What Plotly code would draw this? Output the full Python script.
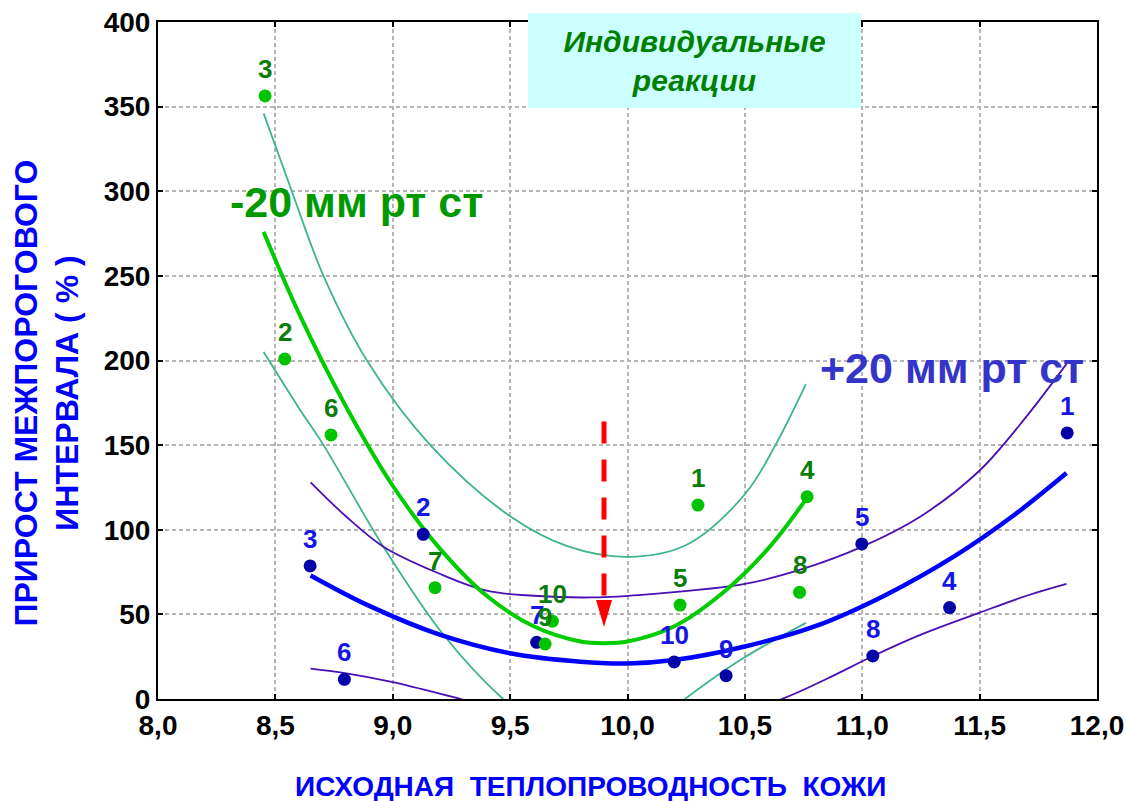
import plotly.graph_objects as go

# ---------------- data ----------------
labels = ["1", "2", "3", "4", "5", "6", "7", "8", "9", "10"]

# -20 mm Hg (green) individual reactions
green_x = [10.30, 8.54, 8.456, 10.765, 10.224, 8.737, 9.18, 10.733, 9.649, 9.68]
green_y = [114.6, 200.9, 356.3, 119.5, 55.5, 156.0, 65.8, 63.0, 32.5, 46.0]

# +20 mm Hg (blue) individual reactions
blue_x = [11.873, 9.13, 8.648, 11.372, 10.998, 8.794, 9.613, 11.045, 10.42, 10.199]
blue_y = [157.2, 97.3, 78.6, 54.0, 91.6, 11.6, 33.5, 25.4, 13.8, 21.9]

# regression curve and confidence bands, -20 mm Hg
g_fit_x = [8.45, 8.6, 8.8, 9.0, 9.2, 9.4, 9.6, 9.8, 9.9, 10.0, 10.2, 10.4, 10.6, 10.76]
g_fit_y = [276, 228, 173, 126, 89, 61, 43, 34, 33, 34, 43, 62, 89, 118]
g_up_x = [8.45, 8.57, 8.705, 8.89, 9.16, 9.5, 9.75, 10.0, 10.25, 10.5, 10.63, 10.76]
g_up_y = [346, 300, 250, 200, 150, 108, 90, 84, 91, 121, 150, 186]
g_lo_x = [8.45, 8.6, 8.705, 8.96, 9.21, 9.47, 9.7, 9.86, 10.0, 10.245, 10.48, 10.76]
g_lo_y = [205, 172, 150, 90, 39, 0, -24, -29, -27, 0, 23, 45]

# regression curve and confidence bands, +20 mm Hg
b_fit_x = [8.65, 8.9, 9.2, 9.5, 9.8, 10.0, 10.2, 10.5, 10.8, 11.1, 11.4, 11.65, 11.87]
b_fit_y = [73, 55, 38, 27, 22, 21, 23, 31, 43, 61.5, 85, 109, 133.5]
b_up_x = [8.65, 8.8, 8.96, 9.2, 9.4, 9.6, 9.85, 10.1, 10.5, 10.75, 11.0, 11.25, 11.5, 11.7, 11.87]
b_up_y = [128, 108, 90, 74, 64, 61, 60, 62, 68, 77, 90, 108, 135, 167, 198]
b_lo_x = [8.65, 8.79, 9.0, 9.29, 9.55, 9.85, 10.15, 10.4, 10.657, 10.85, 11.04, 11.25, 11.5, 11.7, 11.87]
b_lo_y = [18, 15.5, 10, 0, -9, -15, -16, -11, 0, 12, 25, 38, 51, 61, 68]

# red arrow (optimum)
arrow_x = 9.90
arrow_top = 164
arrow_base = 60
arrow_tip = 42.5

x_ticks = [8.0, 8.5, 9.0, 9.5, 10.0, 10.5, 11.0, 11.5, 12.0]
y_ticks = [0, 50, 100, 150, 200, 250, 300, 350, 400]

# ---------------- styles ----------------
GREEN_FIT = "#00cc00"
GREEN_BAND = "#3db58a"
GREEN_PT = "#00c400"
GREEN_LBL = "#0b7d0b"
BLUE_FIT = "#0000ff"
BLUE_BAND = "#4a10b4"
BLUE_PT = "#0303a8"
BLUE_LBL = "#1414e6"
FONT = "Arial, Liberation Sans, sans-serif"

fig = go.Figure()

def curve(x, y, color, width):
    fig.add_trace(go.Scatter(x=x, y=y, mode="lines",
                             line=dict(color=color, width=width, shape="spline", smoothing=1.0),
                             hoverinfo="skip", showlegend=False))

curve(g_up_x, g_up_y, GREEN_BAND, 1.8)
curve(g_lo_x, g_lo_y, GREEN_BAND, 1.8)
curve(b_up_x, b_up_y, BLUE_BAND, 1.8)
curve(b_lo_x, b_lo_y, BLUE_BAND, 1.8)
curve(b_fit_x, b_fit_y, BLUE_FIT, 4.5)
curve(g_fit_x, g_fit_y, GREEN_FIT, 4)

fig.add_trace(go.Scatter(x=blue_x, y=blue_y, mode="markers",
                         marker=dict(color=BLUE_PT, size=13), showlegend=False))
fig.add_trace(go.Scatter(x=green_x, y=green_y, mode="markers",
                         marker=dict(color=GREEN_PT, size=13), showlegend=False))

# red dashed arrow
fig.add_trace(go.Scatter(x=[arrow_x, arrow_x], y=[arrow_top, arrow_base], mode="lines",
                         line=dict(color="#ff0000", width=5, dash="22px,16px"),
                         hoverinfo="skip", showlegend=False))
fig.add_shape(type="path", xref="x", yref="y", xsizemode="pixel", ysizemode="pixel",
              xanchor=arrow_x, yanchor=arrow_tip,
              path="M -8 27 L 8 27 L 0 0 Z", fillcolor="#ff0000", line=dict(width=0),
              layer="above")

annotations = []
for lx, ly, t in zip(blue_x, blue_y, labels):
    annotations.append(dict(x=lx, y=ly, text="<b>%s</b>" % t, showarrow=False, yshift=27,
                            xanchor="center", yanchor="middle",
                            font=dict(family=FONT, size=26, color=BLUE_LBL)))
for lx, ly, t in zip(green_x, green_y, labels):
    annotations.append(dict(x=lx, y=ly, text="<b>%s</b>" % t, showarrow=False, yshift=27,
                            xanchor="center", yanchor="middle",
                            font=dict(family=FONT, size=26, color=GREEN_LBL)))

annotations += [
    dict(x=8.846, y=293.5, text="<b>-20 мм рт ст</b>", showarrow=False,
         xanchor="center", yanchor="middle",
         font=dict(family=FONT, size=43, color="#009a00")),
    dict(x=11.383, y=195.6, text="<b>+20 мм рт ст</b>", showarrow=False,
         xanchor="center", yanchor="middle",
         font=dict(family=FONT, size=43, color="#3434c8")),
    dict(xref="paper", yref="paper", x=0.5714, y=0.9431, xanchor="center", yanchor="middle",
         text="<b><i>Индивидуальные</i></b><br><b><i>реакции</i></b>", showarrow=False,
         font=dict(family=FONT, size=30, color="#008000"),
         bgcolor="#ccffff", width=333, height=95, borderpad=0, borderwidth=0),
    dict(xref="paper", yref="paper", x=0, y=0.5, xshift=-112, yshift=-33, textangle=-90,
         xanchor="center", yanchor="middle",
         text="<b>ПРИРОСТ МЕЖПОРОГОВОГО</b><br><b>ИНТЕРВАЛА ( % )</b>", showarrow=False,
         font=dict(family=FONT, size=32, color="#0000ff")),
    dict(xref="paper", yref="paper", x=0.461, y=0, yshift=-87,
         xanchor="center", yanchor="middle",
         text="<b>ИСХОДНАЯ\u00a0 ТЕПЛОПРОВОДНОСТЬ\u00a0 КОЖИ</b>", showarrow=False,
         font=dict(family=FONT, size=28, color="#0000ff")),
]

axis_common = dict(showline=True, linecolor="black", linewidth=2, mirror="ticks",
                   ticks="inside", ticklen=5, tickwidth=2, tickcolor="black",
                   showgrid=True, gridcolor="#b4b4b4", gridwidth=1.5, griddash="4px,3px",
                   zeroline=False, automargin=False,
                   tickfont=dict(family=FONT, size=28, color="black", weight="bold"))

fig.update_xaxes(range=[8, 12], tickvals=x_ticks, tickformat=".1f", **axis_common)
fig.update_yaxes(range=[0, 400], tickvals=y_ticks, **axis_common)

fig.update_layout(width=1126, height=801, margin=dict(l=158, r=29, t=22, b=102, autoexpand=False),
                  paper_bgcolor="white", plot_bgcolor="white", separators=", ",
                  annotations=annotations, showlegend=False)

fig.write_html("out.html")
